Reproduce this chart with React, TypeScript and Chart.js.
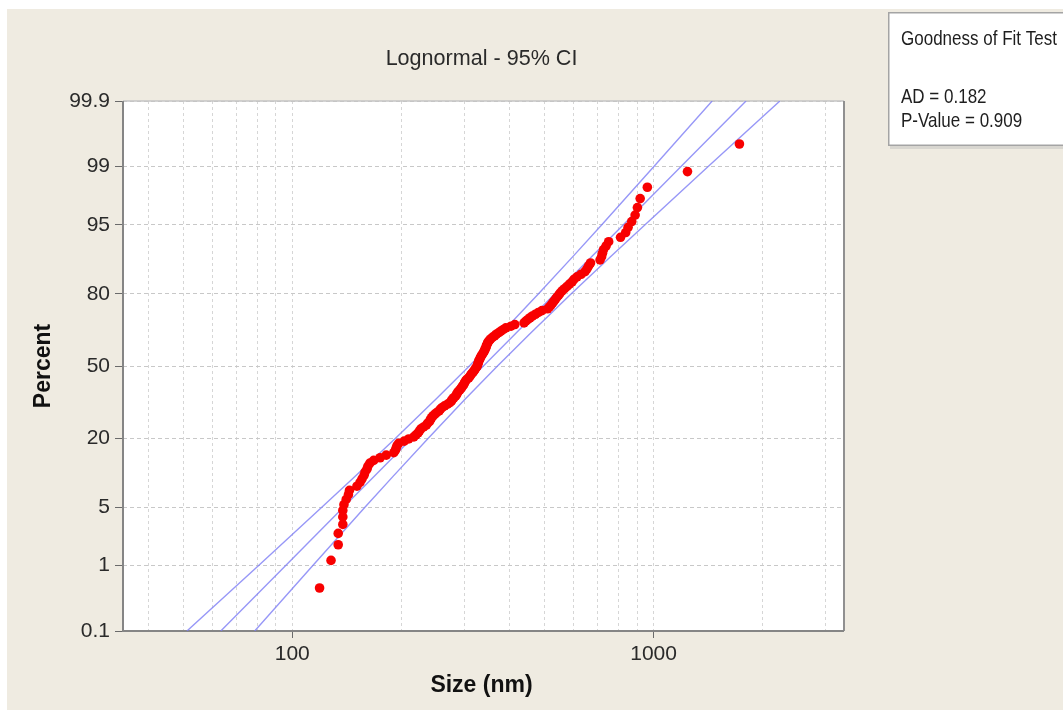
import { useEffect, useRef } from "react";
import { Chart, registerables } from "chart.js";

Chart.register(...registerables);

// Particle sizes (nm), sorted ascending; plotted at median-rank percentiles.
const SIZE_NM = [
  119, 128, 134, 134, 138, 138, 138, 139, 141, 143,
  144, 151, 154, 156, 158, 159, 161, 162, 164, 168,
  175, 182, 191, 193, 194, 195, 197, 204, 210, 217,
  220, 223, 225, 227, 231, 235, 237, 240, 241, 243,
  245, 248, 251, 255, 257, 260, 264, 269, 273, 276,
  277, 280, 283, 285, 286, 288, 291, 293, 295, 297,
  299, 300, 302, 304, 308, 310, 312, 314, 317, 319,
  321, 323, 325, 326, 327, 328, 329, 331, 332, 334,
  336, 338, 340, 341, 343, 344, 345, 347, 348, 351,
  354, 358, 363, 367, 373, 378, 384, 390, 403, 413,
  438, 443, 449, 455, 462, 471, 480, 491, 509, 515,
  520, 525, 530, 535, 540, 546, 551, 558, 567, 576,
  585, 595, 602, 614, 630, 646, 654, 661, 669, 711,
  718, 722, 727, 739, 751, 810, 837, 850, 870, 889,
  902, 918, 961, 1241, 1728,
];

// Fitted lognormal line and its 95% confidence bounds, sampled at these percents.
const FIT_PCT = [0.1, 1, 5, 10, 20, 35, 50, 65, 80, 90, 95, 99, 99.9];
const FIT_SIZE = [63.4, 95.9, 138.7, 168.9, 214.3, 274.4, 338.0, 416.4, 533.2, 676.6, 823.6, 1191, 1802];
const CI_LOW = [51.1, 80.7, 120.9, 149.6, 193.1, 250.0, 309.0, 379.4, 480.3, 599.4, 717.8, 1002, 1452];
const CI_HIGH = [78.7, 114.0, 159.1, 190.6, 237.9, 301.1, 369.8, 457.0, 591.8, 763.7, 945.4, 1416, 2236];

// Axes
const PCT_TICKS = [0.1, 1, 5, 20, 50, 80, 95, 99, 99.9];
const PCT_TICK_LABELS = ["0.1", "1", "5", "20", "50", "80", "95", "99", "99.9"];
const SIZE_GRID = [40, 50, 60, 70, 80, 90, 100, 200, 300, 400, 500, 600, 700, 800, 900, 1000, 2000, 3000];
const SIZE_LABELLED = [100, 1000];
const SIZE_MIN = 34;
const SIZE_MAX = 3365;

const TITLE = "Lognormal - 95% CI";
const X_TITLE = "Size (nm)";
const Y_TITLE = "Percent";
const GOF_TITLE = "Goodness of Fit Test";
const GOF_LINES = ["AD = 0.182", "P-Value = 0.909"];

const FONT = "'Liberation Sans', Arial, sans-serif";

// Inverse standard normal CDF (Acklam's rational approximation).
function probit(p: number): number {
  const a = [-39.69683028665376, 220.9460984245205, -275.9285104469687, 138.357751867269, -30.66479806614716, 2.506628277459239];
  const b = [-54.47609879822406, 161.5858368580409, -155.6989798598866, 66.80131188771972, -13.28068155288572];
  const c = [-0.007784894002430293, -0.3223964580411365, -2.400758277161838, -2.549732539343734, 4.374664141464968, 2.938163982698783];
  const d = [0.007784695709041462, 0.3224671290700398, 2.445134137142996, 3.754408661907416];
  const pl = 0.02425;
  if (p < pl) {
    const q = Math.sqrt(-2 * Math.log(p));
    return (((((c[0] * q + c[1]) * q + c[2]) * q + c[3]) * q + c[4]) * q + c[5]) /
      ((((d[0] * q + d[1]) * q + d[2]) * q + d[3]) * q + 1);
  }
  if (p > 1 - pl) {
    const q = Math.sqrt(-2 * Math.log(1 - p));
    return -(((((c[0] * q + c[1]) * q + c[2]) * q + c[3]) * q + c[4]) * q + c[5]) /
      ((((d[0] * q + d[1]) * q + d[2]) * q + d[3]) * q + 1);
  }
  const q = p - 0.5;
  const r = q * q;
  return ((((((a[0] * r + a[1]) * r + a[2]) * r + a[3]) * r + a[4]) * r + a[5]) * q) /
    (((((b[0] * r + b[1]) * r + b[2]) * r + b[3]) * r + b[4]) * r + 1);
}

function drawText(
  ctx: CanvasRenderingContext2D, text: string, x: number, y: number,
  font: string, color: string, align: CanvasTextAlign, sx = 1, rot = 0,
) {
  ctx.save();
  ctx.translate(x, y);
  if (rot) ctx.rotate(rot);
  ctx.scale(sx, 1);
  ctx.font = font;
  ctx.fillStyle = color;
  ctx.textAlign = align;
  ctx.textBaseline = "alphabetic";
  ctx.fillText(text, 0, 0);
  ctx.restore();
}

const backdrop = {
  id: "backdrop",
  beforeDraw(chart: any) {
    const { ctx, width, height, chartArea: a } = chart;
    ctx.save();
    ctx.fillStyle = "#ffffff";
    ctx.fillRect(0, 0, width, height);
    ctx.fillStyle = "#efebe1";
    ctx.fillRect(7, 9, width - 7, height - 10);
    ctx.fillStyle = "#ffffff";
    ctx.fillRect(a.left, a.top, a.right - a.left, a.bottom - a.top);
    ctx.restore();
  },
  beforeDatasetsDraw(chart: any) {
    const { ctx, chartArea: a } = chart;
    ctx.save();
    ctx.setLineDash([]);
    ctx.strokeStyle = "#c4c4c4";
    ctx.lineWidth = 1.5;
    ctx.beginPath();
    ctx.moveTo(a.left, a.top);
    ctx.lineTo(a.right, a.top);
    ctx.stroke();
    ctx.strokeStyle = "#909090";
    ctx.lineWidth = 2;
    ctx.beginPath();
    ctx.moveTo(a.right, a.top);
    ctx.lineTo(a.right, a.bottom);
    ctx.stroke();
    ctx.strokeStyle = "#858585";
    ctx.beginPath();
    ctx.moveTo(a.left, a.top);
    ctx.lineTo(a.left, a.bottom);
    ctx.lineTo(a.right, a.bottom);
    ctx.stroke();
    ctx.restore();
  },
  afterDraw(chart: any) {
    const { ctx, chartArea: a } = chart;
    const cx = (a.left + a.right) / 2 - 2;
    drawText(ctx, TITLE, cx, 65, `22px ${FONT}`, "#2a2a2a", "center", 0.98);
    drawText(ctx, X_TITLE, cx, 692, `bold 23px ${FONT}`, "#111111", "center");
    drawText(ctx, Y_TITLE, 50, (a.top + a.bottom) / 2, `bold 23px ${FONT}`, "#111111", "center", 1, -Math.PI / 2);

    // Goodness-of-fit panel
    ctx.save();
    ctx.fillStyle = "#d8d6d0";
    ctx.fillRect(890, 15, 200, 134);
    ctx.fillStyle = "#ffffff";
    ctx.fillRect(888, 12, 200, 134);
    ctx.strokeStyle = "#a4a4a4";
    ctx.lineWidth = 1.5;
    ctx.strokeRect(888.75, 12.75, 200, 132.5);
    ctx.restore();
    drawText(ctx, GOF_TITLE, 901, 45, `21px ${FONT}`, "#1e1e1e", "left", 0.81);
    GOF_LINES.forEach((t, i) => {
      drawText(ctx, t, 901, 103 + i * 24, `21px ${FONT}`, "#1e1e1e", "left", 0.81);
    });
  },
};

export default function App() {
  const canvasRef = useRef<HTMLCanvasElement | null>(null);

  useEffect(() => {
    const canvas = canvasRef.current;
    if (!canvas) return;
    const n = SIZE_NM.length;
    const points = SIZE_NM.map((s, i) => ({ x: s, y: probit((i + 1 - 0.3) / (n + 0.4)) }));
    const toLine = (sizes: number[]) => sizes.map((s, i) => ({ x: s, y: probit(FIT_PCT[i] / 100) }));
    const lineStyle = {
      type: "scatter" as const,
      showLine: true,
      pointRadius: 0,
      borderColor: "rgba(125,125,245,0.8)",
      borderWidth: 1.4,
      fill: false,
      order: 1,
    };

    const chart = new Chart(canvas, {
      type: "scatter",
      data: {
        datasets: [
          {
            label: "Size",
            data: points,
            pointRadius: 4.8,
            pointBackgroundColor: "#f80000",
            pointBorderWidth: 0,
            borderColor: "#f80000",
            order: 0,
          },
          { ...lineStyle, label: "Fit", data: toLine(FIT_SIZE) },
          { ...lineStyle, label: "Lower 95%", data: toLine(CI_LOW) },
          { ...lineStyle, label: "Upper 95%", data: toLine(CI_HIGH) },
        ],
      },
      plugins: [backdrop],
      options: {
        animation: false,
        responsive: false,
        devicePixelRatio: 1,
        layout: { padding: { top: 101, right: 219, bottom: 0, left: 0 } },
        plugins: {
          legend: { display: false },
          tooltip: { enabled: false },
          title: { display: false },
        },
        scales: {
          x: {
            type: "logarithmic",
            min: SIZE_MIN,
            max: SIZE_MAX,
            afterBuildTicks: (s: any) => {
              s.ticks = SIZE_GRID.map((v) => ({ value: v }));
            },
            afterFit: (s: any) => {
              s.height = 80;
            },
            ticks: {
              autoSkip: false,
              maxRotation: 0,
              padding: 4,
              color: "#2a2a2a",
              font: { family: FONT, size: 21 },
              callback: (v: any) => (SIZE_LABELLED.includes(Number(v)) ? String(v) : ""),
            },
            grid: {
              color: "#d6d6d6",
              lineWidth: 1,
              tickLength: 7,
              tickWidth: 1,
              tickBorderDash: [],
              tickColor: (c: any) =>
                c.tick && SIZE_LABELLED.includes(c.tick.value) ? "#6a6a6a" : "rgba(0,0,0,0)",
            },
            border: { display: false, dash: [3, 3] },
          },
          y: {
            type: "linear",
            min: probit(PCT_TICKS[0] / 100),
            max: probit(PCT_TICKS[PCT_TICKS.length - 1] / 100),
            afterBuildTicks: (s: any) => {
              s.ticks = PCT_TICKS.map((p) => ({ value: probit(p / 100) }));
            },
            afterFit: (s: any) => {
              s.width = 123;
            },
            ticks: {
              autoSkip: false,
              padding: 5,
              color: "#2a2a2a",
              font: { family: FONT, size: 21 },
              callback: (_v: any, i: number) => PCT_TICK_LABELS[i],
            },
            grid: {
              color: "#c8c8c8",
              lineWidth: 1,
              tickLength: 8,
              tickWidth: 1,
              tickBorderDash: [],
              tickColor: "#6a6a6a",
            },
            border: { display: false, dash: [4, 3] },
          },
        },
      },
    } as any);

    return () => chart.destroy();
  }, []);

  return (
    <div style={{ position: "fixed", left: 0, top: 0, width: 1063, height: 711, background: "#ffffff" }}>
      <canvas ref={canvasRef} width={1063} height={711} style={{ display: "block", width: 1063, height: 711 }} />
    </div>
  );
}
